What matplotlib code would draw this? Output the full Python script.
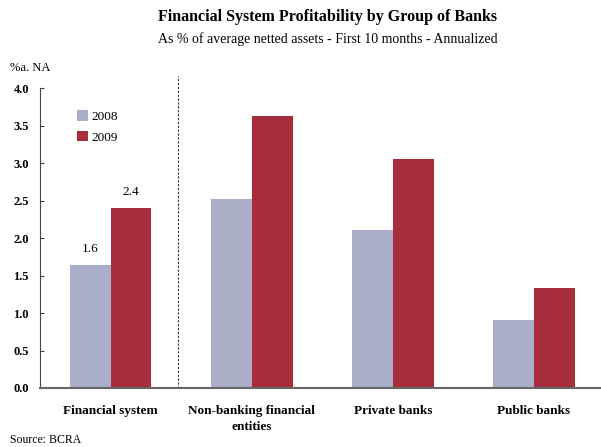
import numpy as np
import matplotlib.pyplot as plt

plt.rcParams['font.family'] = ['Liberation Serif', 'DejaVu Serif']

categories = ['Financial system', 'Non-banking financial\nentities', 'Private banks', 'Public banks']
years = ['2008', '2009']
vals_2008 = [1.64, 2.52, 2.11, 0.91]
vals_2009 = [2.40, 3.63, 3.05, 1.33]
labels_2008 = ['1.6', None, None, None]
labels_2009 = ['2.4', None, None, None]

c2008 = '#abaec8'
c2009 = '#a72d3c'

fig = plt.figure(figsize=(6.01, 4.47), dpi=100)
ax = fig.add_axes([0.0666, 0.132, 0.932, 0.671])

x = np.arange(len(categories))
w = 0.29
b1 = ax.bar(x - w / 2, vals_2008, w, color=c2008, label=years[0])
b2 = ax.bar(x + w / 2, vals_2009, w, color=c2009, label=years[1])

for bars, labs in [(b1, labels_2008), (b2, labels_2009)]:
    for rect, lab in zip(bars, labs):
        if lab:
            ax.text(rect.get_x() + rect.get_width() / 2, rect.get_height() + 0.13, lab,
                    ha='center', va='bottom', fontsize=9.5)

# separator between the system total and the groups
ax.axvline(0.475, ymin=0, ymax=1.04, color='#333333', linestyle=(0, (2, 1.5)),
           linewidth=0.8, clip_on=False)

ax.set_xlim(-0.5, 3.47)
ax.set_ylim(0, 4.0)
ax.set_yticks(np.arange(0, 4.01, 0.5))
ax.set_yticklabels([f'{v:.1f}' for v in np.arange(0, 4.01, 0.5)], fontweight='bold', fontsize=9)
ax.set_xticks(x)
ax.set_xticklabels(categories, fontweight='bold', fontsize=9.5, linespacing=1.5)
ax.tick_params(axis='x', length=0, pad=12)
ax.tick_params(axis='y', direction='in', length=3, width=0.8, color='#444444', pad=8)

for s in ['top', 'right']:
    ax.spines[s].set_visible(False)
ax.spines['left'].set_color('#444444')
ax.spines['left'].set_linewidth(0.8)
ax.spines['bottom'].set_color('#666666')
ax.spines['bottom'].set_linewidth(1.5)

leg = ax.legend(loc='upper left', bbox_to_anchor=(0.045, 0.965), frameon=False,
                fontsize=9.5, handlelength=0.8, handleheight=0.8, handletextpad=0.3,
                labelspacing=0.6)

fig.text(0.545, 0.962, 'Financial System Profitability by Group of Banks',
         ha='center', va='center', fontsize=11.5, fontweight='bold')
fig.text(0.545, 0.912, 'As % of average netted assets - First 10 months - Annualized',
         ha='center', va='center', fontsize=10)
fig.text(0.017, 0.848, '%a. NA', ha='left', va='center', fontsize=9)
fig.text(0.017, 0.003, 'Source: BCRA', ha='left', va='bottom', fontsize=8.5)

fig.savefig('out.png', dpi=100)
